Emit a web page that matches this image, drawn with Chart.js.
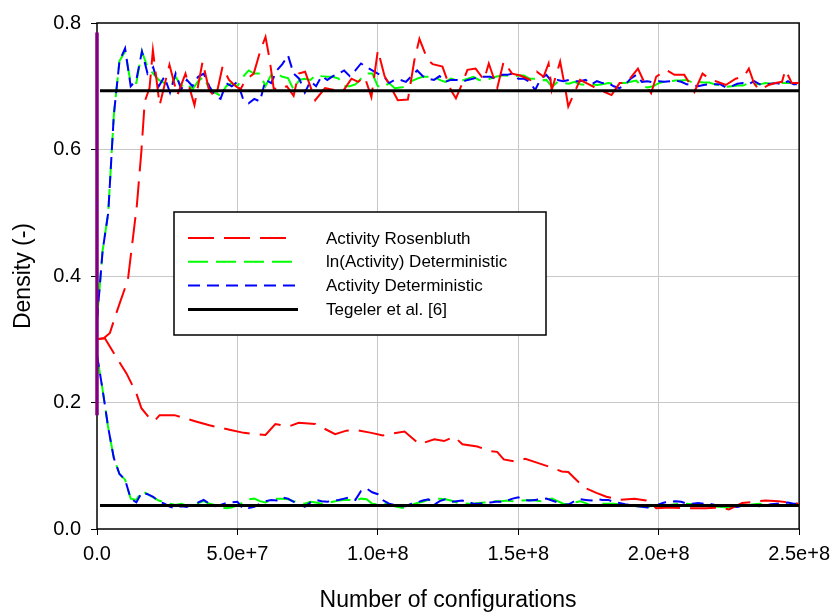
<!DOCTYPE html>
<html>
<head>
<meta charset="utf-8">
<script src="https://cdn.jsdelivr.net/npm/chart.js@4/dist/chart.umd.min.js"></script>
<style>
  html, body { margin: 0; padding: 0; background: #fff; }
  #wrap { width: 837px; height: 615px; }
</style>
</head>
<body>
<div id="wrap"><canvas id="chart" width="837" height="615"></canvas></div>
<script>
// ---- Tick labels and series names ----
const xTickLabels = ['0.0', '5.0e+7', '1.0e+8', '1.5e+8', '2.0e+8', '2.5e+8'];
const yTickLabels = ['0.0', '0.2', '0.4', '0.6', '0.8'];
const seriesNames = ['Activity Rosenbluth', 'ln(Activity) Deterministic', 'Activity Deterministic', 'Tegeler et al. [6]'];

// ---- Deterministic runs: sampled every 2e6 configurations (0 .. 2.5e8) ----
const detStep = 2e6;

// liquid branch, Activity Deterministic
const actDetLiquid = [
  0.33, 0.44, 0.50, 0.655, 0.74, 0.76, 0.70, 0.71, 0.755, 0.72,
  0.73, 0.70, 0.715, 0.69, 0.72, 0.695, 0.71, 0.70, 0.715, 0.72,
  0.70, 0.685, 0.68, 0.705, 0.70, 0.707, 0.68, 0.673, 0.68, 0.676,
  0.71, 0.705, 0.725, 0.735, 0.749, 0.72, 0.712, 0.69, 0.708, 0.70,
  0.716, 0.71, 0.716, 0.72, 0.725, 0.716, 0.725, 0.736, 0.73, 0.725,
  0.72, 0.716, 0.705, 0.71, 0.71, 0.707, 0.716, 0.725, 0.716, 0.712,
  0.71, 0.716, 0.707, 0.71, 0.71, 0.707, 0.71, 0.712, 0.715, 0.715,
  0.715, 0.712, 0.718, 0.718, 0.72, 0.712, 0.712, 0.707, 0.694, 0.712,
  0.718, 0.707, 0.71, 0.708, 0.71, 0.708, 0.708, 0.71, 0.703, 0.708,
  0.705, 0.705, 0.70, 0.697, 0.702, 0.712, 0.718, 0.707, 0.708, 0.706,
  0.708, 0.707, 0.708, 0.709, 0.707, 0.703, 0.702, 0.70, 0.702, 0.703,
  0.703, 0.703, 0.698, 0.70, 0.704, 0.705, 0.703, 0.708, 0.703, 0.703,
  0.704, 0.705, 0.703, 0.708, 0.703, 0.703
];

// liquid branch, ln(Activity) Deterministic
const lnActDetLiquid = [
  0.33, 0.44, 0.50, 0.655, 0.74, 0.755, 0.705, 0.705, 0.755, 0.73,
  0.72, 0.71, 0.705, 0.70, 0.715, 0.70, 0.705, 0.695, 0.708, 0.715,
  0.695, 0.69, 0.685, 0.70, 0.705, 0.70, 0.715, 0.725, 0.72, 0.72,
  0.70, 0.718, 0.72, 0.715, 0.713, 0.695, 0.71, 0.712, 0.71, 0.718,
  0.716, 0.715, 0.715, 0.712, 0.70, 0.70, 0.703, 0.712, 0.72, 0.72,
  0.70, 0.698, 0.705, 0.697, 0.698, 0.699, 0.708, 0.712, 0.715, 0.715,
  0.715, 0.71, 0.707, 0.712, 0.71, 0.709, 0.712, 0.715, 0.71, 0.709,
  0.712, 0.715, 0.717, 0.717, 0.715, 0.717, 0.717, 0.712, 0.712, 0.709,
  0.71, 0.699, 0.707, 0.705, 0.704, 0.707, 0.703, 0.702, 0.703, 0.702,
  0.703, 0.705, 0.704, 0.705, 0.705, 0.707, 0.709, 0.70, 0.698, 0.70,
  0.705, 0.707, 0.708, 0.709, 0.709, 0.71, 0.706, 0.707, 0.706, 0.706,
  0.703, 0.701, 0.699, 0.70, 0.701, 0.701, 0.705, 0.703, 0.703, 0.705,
  0.704, 0.706, 0.705, 0.705, 0.705, 0.705
];

// vapour branch, Activity Deterministic
const actDetVapour = [
  0.275, 0.22, 0.16, 0.112, 0.087, 0.078, 0.048, 0.042, 0.058, 0.055,
  0.051, 0.044, 0.04, 0.035, 0.033, 0.036, 0.035, 0.04, 0.042, 0.046,
  0.04, 0.036, 0.038, 0.041, 0.042, 0.043, 0.032, 0.033, 0.035, 0.04,
  0.044, 0.046, 0.045, 0.05, 0.048, 0.043, 0.04, 0.035, 0.042, 0.046,
  0.044, 0.043, 0.045, 0.046, 0.048, 0.05, 0.046, 0.06, 0.064, 0.058,
  0.055, 0.045, 0.04, 0.038, 0.036, 0.036, 0.04, 0.042, 0.045, 0.047,
  0.038, 0.044, 0.047, 0.043, 0.044, 0.045, 0.043, 0.04, 0.04, 0.041,
  0.042, 0.043, 0.043, 0.045, 0.048, 0.05, 0.046, 0.045, 0.046, 0.047,
  0.048, 0.045, 0.042, 0.038, 0.039, 0.044, 0.047, 0.046, 0.045, 0.047,
  0.046, 0.046, 0.043, 0.041, 0.039, 0.038, 0.036, 0.035, 0.034, 0.033,
  0.039, 0.042, 0.043, 0.044, 0.043, 0.04, 0.04, 0.041, 0.04, 0.04,
  0.038, 0.036, 0.036, 0.036, 0.035, 0.037, 0.038, 0.037, 0.036, 0.037,
  0.039, 0.04, 0.041, 0.042, 0.04, 0.04
];

// vapour branch, ln(Activity) Deterministic
const lnActDetVapour = [
  0.275, 0.22, 0.16, 0.112, 0.087, 0.078, 0.048, 0.046, 0.06, 0.055,
  0.05, 0.045, 0.042, 0.04, 0.038, 0.04, 0.037, 0.039, 0.041, 0.044,
  0.04, 0.038, 0.034, 0.033, 0.034, 0.038, 0.042, 0.047, 0.048, 0.044,
  0.042, 0.046, 0.048, 0.048, 0.047, 0.044, 0.042, 0.04, 0.043, 0.042,
  0.04, 0.041, 0.043, 0.045, 0.046, 0.046, 0.045, 0.048, 0.047, 0.04,
  0.039, 0.04, 0.039, 0.036, 0.034, 0.033, 0.038, 0.041, 0.043, 0.046,
  0.048, 0.048, 0.047, 0.045, 0.042, 0.041, 0.04, 0.04, 0.041, 0.042,
  0.043, 0.044, 0.044, 0.045, 0.044, 0.045, 0.045, 0.046, 0.045, 0.044,
  0.046, 0.048, 0.044, 0.04, 0.039, 0.042, 0.044, 0.041, 0.037, 0.038,
  0.04, 0.04, 0.04, 0.039, 0.038, 0.037, 0.036, 0.036, 0.035, 0.035,
  0.036, 0.037, 0.038, 0.039, 0.04, 0.04, 0.039, 0.038, 0.037, 0.036,
  0.035, 0.035, 0.034, 0.035, 0.036, 0.037, 0.038, 0.039, 0.04, 0.039,
  0.038, 0.038, 0.037, 0.038, 0.037, 0.037
];

// ---- Rosenbluth run: configurations in millions, with densities ----
const rosenLiquidConfigs = [
  0, 2.5, 4.6, 6.4, 8.1, 11, 14.2, 15.8, 17, 18.7,
  19.9, 22.3, 25.8, 28.6, 31.5, 34.7, 37.6, 39.9, 42.3, 44.7,
  47, 49.4, 51.1, 52.9, 55.8, 58.2, 60, 61.4, 62.9, 64.7,
  67.6, 70, 71.8, 74.1, 77.7, 81.2, 84.7, 87.1, 90.6, 93,
  95.3, 97.7, 100, 102.4, 104.8, 107.1, 110.7, 113, 114.8, 117.7,
  119.5, 123, 126, 127.8, 130.1, 131.9, 134.8, 137.8, 139.5, 142.5,
  144.8, 147.8, 150.7, 154.3, 156.6, 159, 160.8, 161.9, 164.9, 166.7,
  167.8, 170.2, 172, 175.5, 177.8, 180.2, 183.2, 186.1, 188.5, 192.6,
  195, 197.3, 199.1, 202.6, 205.6, 209.1, 210.9, 212.7, 215.6, 218.6,
  220.9, 223.9, 227.4, 230.3, 232.1, 233.9, 235.7, 239.2, 241.5, 243.9,
  245.1, 246.3, 247.4, 249.2, 250
];
const rosenLiquid = [
  0.300, 0.302, 0.31, 0.335, 0.357, 0.394, 0.512, 0.597, 0.676, 0.697,
  0.757, 0.67, 0.734, 0.686, 0.72, 0.67, 0.739, 0.694, 0.682, 0.731,
  0.71, 0.70, 0.695, 0.71, 0.72, 0.757, 0.778, 0.744, 0.697, 0.694,
  0.70, 0.685, 0.72, 0.723, 0.678, 0.697, 0.694, 0.689, 0.712, 0.707,
  0.715, 0.683, 0.757, 0.716, 0.697, 0.678, 0.679, 0.741, 0.775, 0.742,
  0.735, 0.731, 0.694, 0.681, 0.705, 0.726, 0.728, 0.71, 0.736, 0.697,
  0.739, 0.72, 0.717, 0.71, 0.723, 0.715, 0.736, 0.694, 0.739, 0.697,
  0.668, 0.692, 0.71, 0.702, 0.697, 0.692, 0.686, 0.705, 0.705, 0.728,
  0.705, 0.689, 0.715, 0.726, 0.718, 0.718, 0.705, 0.691, 0.72, 0.71,
  0.707, 0.702, 0.712, 0.715, 0.728, 0.705, 0.694, 0.702, 0.705, 0.707,
  0.726, 0.715, 0.705, 0.705, 0.705
];
const rosenVapourConfigs = [
  0, 2.8, 7.5, 10.5, 14, 15.8, 19.3, 20.5, 22.3, 27.6,
  35.2, 40, 47.6, 52.3, 60, 63.5, 68.2, 71.8, 77.7, 84.8,
  88.8, 93, 97.7, 101.8, 105.3, 109.5, 114.8, 120.1, 123.6, 127.2,
  130.1, 135.4, 140.1, 142.5, 144.8, 148.4, 152.5, 156.6, 161.3, 165.5,
  167.8, 170.8, 173.7, 177.8, 181.4, 186.1, 191.4, 195.5, 199.1, 203.8,
  209.7, 216.7, 221.5, 225, 229.7, 238, 242.7, 249.7
];
const rosenVapour = [
  0.300, 0.3015, 0.267, 0.246, 0.2145, 0.191, 0.172, 0.171, 0.18, 0.18,
  0.17, 0.164, 0.1565, 0.152, 0.1486, 0.166, 0.162, 0.168, 0.166, 0.150,
  0.1555, 0.156, 0.152, 0.148, 0.151, 0.154, 0.134, 0.142, 0.139, 0.146,
  0.134, 0.1305, 0.123, 0.122, 0.110, 0.107, 0.111, 0.105, 0.098, 0.091,
  0.090, 0.077, 0.065, 0.057, 0.051, 0.046, 0.048, 0.045, 0.033, 0.034,
  0.033, 0.033, 0.034, 0.031, 0.041, 0.045, 0.044, 0.040
];

// ---- Reference coexistence densities (Tegeler et al.) ----
const tegelerLiquid = 0.693;
const tegelerVapour = 0.037;
const tegelerConfigs = [1.06e6, 2.5e8];

// ---- Initial density spread marker at the origin ----
const startSpread = [0.18, 0.785];

// ---- Build {x, y} point lists ----
const detPoints = (ys) => ys.map((y, i) => ({ x: i * detStep, y }));
const millionPoints = (xs, ys) => xs.map((x, i) => ({ x: x * 1e6, y: ys[i] }));
const flatPoints = (y) => tegelerConfigs.map(x => ({ x, y }));

const RED = '#ff0000', GREEN = '#00ff00', BLUE = '#0000ff', BLACK = '#000000', PURPLE = '#800080';
const DASH_RED = [26, 10], DASH_GREEN = [20, 8], DASH_BLUE = [12, 7];

const lineBase = { pointRadius: 0, pointHoverRadius: 0, tension: 0, fill: false, spanGaps: true };

const datasets = [
  { ...lineBase, label: '', data: startSpread.map(y => ({ x: 0, y })), borderColor: PURPLE, borderWidth: 3.5, order: 0, clip: false },
  { ...lineBase, label: seriesNames[3], data: flatPoints(tegelerLiquid), borderColor: BLACK, borderWidth: 3, order: 1,
    legendEntry: { idx: 3, dash: [], width: 3, len: 110 } },
  { ...lineBase, label: seriesNames[3], data: flatPoints(tegelerVapour), borderColor: BLACK, borderWidth: 3, order: 1 },
  { ...lineBase, label: seriesNames[0], data: millionPoints(rosenLiquidConfigs, rosenLiquid), borderColor: RED, borderWidth: 2, borderDash: DASH_RED, order: 2,
    legendEntry: { idx: 0, dash: DASH_RED, width: 2, len: 100 } },
  { ...lineBase, label: seriesNames[0], data: millionPoints(rosenVapourConfigs, rosenVapour), borderColor: RED, borderWidth: 2, borderDash: DASH_RED, order: 2 },
  { ...lineBase, label: seriesNames[2], data: detPoints(actDetLiquid), borderColor: BLUE, borderWidth: 2, borderDash: DASH_BLUE, order: 3,
    legendEntry: { idx: 2, dash: DASH_BLUE, width: 2, len: 107 } },
  { ...lineBase, label: seriesNames[2], data: detPoints(actDetVapour), borderColor: BLUE, borderWidth: 2, borderDash: DASH_BLUE, order: 3 },
  { ...lineBase, label: seriesNames[1], data: detPoints(lnActDetLiquid), borderColor: GREEN, borderWidth: 2, borderDash: DASH_GREEN, order: 4,
    legendEntry: { idx: 1, dash: DASH_GREEN, width: 2, len: 104 } },
  { ...lineBase, label: seriesNames[1], data: detPoints(lnActDetVapour), borderColor: GREEN, borderWidth: 2, borderDash: DASH_GREEN, order: 4 }
];

const FONT = "'Liberation Sans', Arial, Helvetica, sans-serif";

// Black frame around the plotting area
const framePlugin = {
  id: 'plotFrame',
  beforeDatasetsDraw(chart) {
    const { ctx, chartArea: a } = chart;
    ctx.save();
    ctx.strokeStyle = '#000';
    ctx.lineWidth = 1.5;
    ctx.strokeRect(a.left, a.top, a.right - a.left, a.bottom - a.top);
    ctx.restore();
  }
};

// Boxed legend inside the plotting area
const boxLegendPlugin = {
  id: 'boxLegend',
  afterDatasetsDraw(chart) {
    const { ctx, chartArea: a } = chart;
    const entries = chart.data.datasets
      .filter(d => d.legendEntry)
      .sort((p, q) => p.legendEntry.idx - q.legendEntry.idx);
    const bx = a.left + 77, by = a.top + 189, bw = 372, bh = 123;
    ctx.save();
    ctx.fillStyle = '#fff';
    ctx.fillRect(bx, by, bw, bh);
    ctx.strokeStyle = '#000';
    ctx.lineWidth = 1.5;
    ctx.strokeRect(bx, by, bw, bh);
    entries.forEach((d, i) => {
      const y = by + 26 + i * 23.8;
      ctx.setLineDash(d.legendEntry.dash);
      ctx.strokeStyle = d.borderColor;
      ctx.lineWidth = d.legendEntry.width;
      ctx.beginPath();
      ctx.moveTo(bx + 14, y);
      ctx.lineTo(bx + 14 + d.legendEntry.len, y);
      ctx.stroke();
      ctx.setLineDash([]);
      ctx.fillStyle = '#000';
      ctx.font = '17px ' + FONT;
      ctx.textBaseline = 'middle';
      ctx.textAlign = 'left';
      ctx.fillText(d.label, bx + 152, y + 1);
    });
    ctx.restore();
  }
};

new Chart(document.getElementById('chart'), {
  type: 'line',
  data: { datasets },
  plugins: [framePlugin, boxLegendPlugin],
  options: {
    responsive: false,
    animation: false,
    devicePixelRatio: 1,
    layout: { padding: { left: 0, right: 33, top: 23, bottom: 0 } },
    plugins: { legend: { display: false }, tooltip: { enabled: false } },
    scales: {
      x: {
        type: 'linear',
        min: 0,
        max: 2.5e8,
        afterFit: (s) => { s.height = 86; },
        ticks: {
          stepSize: 5e7,
          autoSkip: false,
          maxRotation: 0,
          color: '#000',
          padding: 7,
          font: { family: FONT, size: 20 },
          callback: (v, i) => xTickLabels[i]
        },
        grid: {
          color: (c) => (c.index === 0 || c.index === xTickLabels.length - 1) ? 'rgba(0,0,0,0)' : '#c8c8c8',
          lineWidth: 1,
          tickColor: '#000',
          tickLength: 6
        },
        border: { display: false },
        title: {
          display: true,
          text: 'Number of configurations',
          color: '#000',
          font: { family: FONT, size: 23 },
          padding: { top: 0, bottom: 1 }
        }
      },
      y: {
        type: 'linear',
        min: 0,
        max: 0.8,
        afterFit: (s) => { s.width = 97; },
        ticks: {
          stepSize: 0.2,
          autoSkip: false,
          color: '#000',
          padding: 10,
          font: { family: FONT, size: 20 },
          callback: (v, i) => yTickLabels[i]
        },
        grid: {
          color: (c) => (c.index === 0 || c.index === yTickLabels.length - 1) ? 'rgba(0,0,0,0)' : '#c8c8c8',
          lineWidth: 1,
          tickColor: '#000',
          tickLength: 6
        },
        border: { display: false },
        title: {
          display: true,
          text: 'Density (-)',
          color: '#000',
          font: { family: FONT, size: 23 },
          padding: { top: 10, bottom: 0 }
        }
      }
    }
  }
});
</script>
</body>
</html>
